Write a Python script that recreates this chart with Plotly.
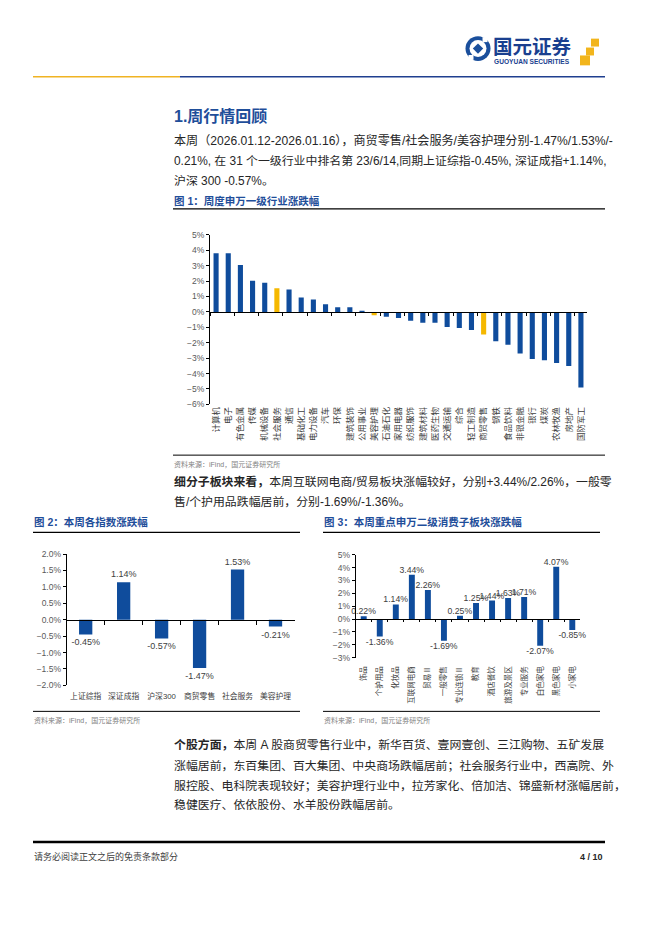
import plotly.graph_objects as go

W, H = 662, 936


def X(p):
    return p / W


def Y(p):
    return 1 - p / H


FONT = "Liberation Sans, Arial, Noto Sans CJK SC, sans-serif"
BLUE = "#0F4C9C"
GOLD = "#F5B800"
TBLUE = "#1F4E9A"
TXT = "#262626"

# ---------------- data ----------------
ind_names = ["计算机", "电子", "有色金属", "传媒", "机械设备", "社会服务", "通信", "基础化工",
             "电力设备", "汽车", "环保", "建筑装饰", "公用事业", "美容护理", "石油石化", "家用电器",
             "纺织服饰", "建筑材料", "医药生物", "交通运输", "综合", "轻工制造", "商贸零售", "钢铁",
             "食品饮料", "非银金融", "银行", "煤炭", "农林牧渔", "房地产", "国防军工"]
ind_chg = [3.81, 3.80, 3.04, 2.02, 1.89, 1.53, 1.45, 0.94, 0.81, 0.49, 0.30, 0.30, 0.06, -0.21,
           -0.32, -0.40, -0.57, -0.70, -0.70, -0.98, -1.04, -1.17, -1.47, -1.91, -2.13, -2.70,
           -3.06, -3.13, -3.32, -3.51, -4.91]
highlight = ["社会服务", "美容护理", "商贸零售"]

idx_names = ["上证综指", "深证成指", "沪深300", "商贸零售", "社会服务", "美容护理"]
idx_chg = [-0.45, 1.14, -0.57, -1.47, 1.53, -0.21]

sub_names = ["饰品", "个护用品", "化妆品", "互联网电商", "贸易Ⅱ", "一般零售", "专业连锁Ⅱ", "教育",
             "酒店餐饮", "旅游及景区", "专业服务", "白色家电", "黑色家电", "小家电"]
sub_chg = [0.22, -1.36, 1.14, 3.44, 2.26, -1.69, 0.25, 1.25, 1.44, 1.63, 1.71, -2.07, 4.07, -0.85]

# ---------------- geometry (px) ----------------
F1 = dict(x0=210, x1=587, top=232.3, bot=403.7, ymin=-6, ymax=5)
F2 = dict(x0=66.7, x1=294.5, top=555, bot=687.7, ymin=-2, ymax=2)
F3 = dict(x0=355.7, x1=580.3, top=555.7, bot=659.7, ymin=-3, ymax=5)


def zero_pos(f):
    b, t = Y(f["bot"]), Y(f["top"])
    return b + (0 - f["ymin"]) / (f["ymax"] - f["ymin"]) * (t - b)


fig = go.Figure()

# Figure 1
colors1 = [GOLD if n in highlight else BLUE for n in ind_names]
fig.add_trace(go.Bar(x=ind_names, y=ind_chg, marker_color=colors1, marker_line_width=0,
                     width=0.42, xaxis="x", yaxis="y", showlegend=False, hoverinfo="skip"))
fig.add_trace(go.Scatter(x=ind_names, y=ind_chg, mode="none", xaxis="x2", yaxis="y",
                         showlegend=False, hoverinfo="skip"))

# Figure 2
fig.add_trace(go.Bar(x=idx_names, y=idx_chg, marker_color=BLUE, marker_line_width=0, width=0.35,
                     text=idx_chg, texttemplate="%{y:.2f}%", textposition="outside",
                     constraintext="none", cliponaxis=False,
                     textfont=dict(size=9, color="#404040", family=FONT),
                     xaxis="x3", yaxis="y3", showlegend=False, hoverinfo="skip"))
fig.add_trace(go.Scatter(x=idx_names, y=idx_chg, mode="none", xaxis="x4", yaxis="y3",
                         showlegend=False, hoverinfo="skip"))

# Figure 3
fig.add_trace(go.Bar(x=sub_names, y=sub_chg, marker_color=BLUE, marker_line_width=0, width=0.37,
                     text=sub_chg, texttemplate="%{y:.2f}%", textposition="outside",
                     constraintext="none", cliponaxis=False,
                     textfont=dict(size=8.7, color="#404040", family=FONT),
                     xaxis="x5", yaxis="y5", showlegend=False, hoverinfo="skip"))
fig.add_trace(go.Scatter(x=sub_names, y=sub_chg, mode="none", xaxis="x6", yaxis="y5",
                         showlegend=False, hoverinfo="skip"))


def cat_axis(f, n, **kw):
    d = dict(domain=[X(f["x0"]), X(f["x1"])], type="category", range=[-0.5, n - 0.5],
             showgrid=False, zeroline=False, fixedrange=True)
    d.update(kw)
    return d


def val_axis(f, dtick, fmt, **kw):
    d = dict(domain=[Y(f["bot"]), Y(f["top"])], range=[f["ymin"], f["ymax"]], dtick=dtick,
             tickformat=fmt, ticksuffix="%", showline=True, linecolor="black", linewidth=1,
             ticks="outside", ticklen=3, tickcolor="black", showgrid=False, zeroline=False,
             tickfont=dict(size=8.5, color="#595959", family=FONT), fixedrange=True)
    d.update(kw)
    return d


zero_kw = dict(showline=True, linecolor="black", linewidth=1, ticks="outside", tickson="boundaries",
               ticklen=3, tickcolor="black", showticklabels=False, anchor="free")

layout_axes = dict(
    xaxis=cat_axis(F1, len(ind_names), anchor="y", showline=False, ticks="", tickangle=-90,
                   tickfont=dict(size=8.5, color="#404040", family=FONT)),
    xaxis2=cat_axis(F1, len(ind_names), overlaying="x", position=zero_pos(F1), **zero_kw),
    yaxis=val_axis(F1, 1, ".0f", anchor="x"),
    xaxis3=cat_axis(F2, len(idx_names), anchor="y3", showline=False, ticks="", tickangle=0,
                    ticklabelstandoff=5,
                    tickfont=dict(size=7.8, color="#404040", family=FONT)),
    xaxis4=cat_axis(F2, len(idx_names), overlaying="x3", position=zero_pos(F2),
                    **dict(zero_kw, ticklen=4)),
    yaxis3=val_axis(F2, 0.5, ".1f", anchor="x3"),
    xaxis5=cat_axis(F3, len(sub_names), anchor="y5", showline=False, ticks="", tickangle=-90,
                    ticklabelstandoff=6,
                    tickfont=dict(size=7.5, color="#404040", family=FONT)),
    xaxis6=cat_axis(F3, len(sub_names), overlaying="x5", position=zero_pos(F3),
                    **dict(zero_kw, ticklen=2)),
    yaxis5=val_axis(F3, 1, ".0f", anchor="x5"),
)

# ---------------- page shapes ----------------
shapes = []


def hline(x0, x1, y, color="black", w=1.0):
    shapes.append(dict(type="line", xref="paper", yref="paper", x0=X(x0), x1=X(x1), y0=Y(y), y1=Y(y),
                       line=dict(color=color, width=w)))


hline(33, 180, 72.5, "#F0B323", 1.6)
hline(180, 605, 72.5, "#1F3F8F", 1.6)
hline(173, 605, 206, "black", 1.3)
hline(173, 605, 455, "black", 1.0)
hline(33, 300, 533, "black", 1.3)
hline(323, 600, 533, "black", 1.3)
hline(33, 300, 714, "black", 1.0)
hline(323, 600, 714, "black", 1.0)
hline(33, 605, 846, "black", 2.5)

# logo circle
cx, cy, r = 478, 44, 12.5
shapes.append(dict(type="circle", xref="paper", yref="paper", x0=X(cx - r), x1=X(cx + r),
                   y0=Y(cy + r), y1=Y(cy - r), fillcolor="#1A4F9C", line=dict(width=0)))
r2 = 8.5
shapes.append(dict(type="circle", xref="paper", yref="paper", x0=X(cx - r2), x1=X(cx + r2),
                   y0=Y(cy + r2), y1=Y(cy - r2), fillcolor="white", line=dict(width=0)))
d = 5.2
shapes.append(dict(type="path", xref="paper", yref="paper",
                   path=f"M {X(cx)} {Y(cy - d)} L {X(cx + d)} {Y(cy)} L {X(cx)} {Y(cy + d)} L {X(cx - d)} {Y(cy)} Z",
                   fillcolor="#1A4F9C", line=dict(width=0)))
for (gx, gy) in [(cx + 7, cy - 9), (cx - 7, cy + 9)]:
    shapes.append(dict(type="rect", xref="paper", yref="paper", x0=X(gx - 2.5), x1=X(gx + 2.5),
                       y0=Y(gy + 2.5), y1=Y(gy - 2.5), fillcolor="white", line=dict(width=0)))
for (sx, sy, s) in [(591, 34, 8), (586, 43, 8), (580, 51, 10)]:
    shapes.append(dict(type="rect", xref="paper", yref="paper", x0=X(sx), x1=X(sx + s),
                       y0=Y(sy + s), y1=Y(sy), fillcolor="#F2B51C", line=dict(width=0)))

# ---------------- page text ----------------
ann = []


def text(x, y, s, size=12, color=TXT, anchor="left", bold=False):
    if bold:
        s = "<b>" + s + "</b>"
    ann.append(dict(xref="paper", yref="paper", x=X(x), y=Y(y), text=s, showarrow=False,
                    xanchor=anchor, yanchor="middle", align=anchor,
                    font=dict(size=size, color=color, family=FONT)))


BODY = 11.9
text(491, 42, "国元证券", 19.5, "#1A3F8F", bold=True)
text(492, 57, "GUOYUAN SECURITIES", 6.6, "#1A3F8F", bold=True)

text(172, 112, "1.周行情回顾", 16, TBLUE, bold=True)
text(172, 137, "本周（2026.01.12-2026.01.16），商贸零售/社会服务/美容护理分别-1.47%/1.53%/-", 12.1)
text(172, 158, "0.21%, 在 31 个一级行业中排名第 23/6/14,同期上证综指-0.45%, 深证成指+1.14%,", BODY)
text(172, 178, "沪深 300 -0.57%。", BODY)
text(172, 198, "图 1：周度申万一级行业涨跌幅", 10.5, TBLUE, bold=True)
text(172, 464, "资料来源：iFind，国元证券研究所", 7, "#7F7F7F")
text(172, 482, "<b>细分子板块来看，</b>本周互联网电商/贸易板块涨幅较好，分别+3.44%/2.26%，一般零", BODY)
text(172, 502, "售/个护用品跌幅居前，分别-1.69%/-1.36%。", BODY)

text(32, 523, "图 2：本周各指数涨跌幅", 10.5, TBLUE, bold=True)
text(322, 523, "图 3：本周重点申万二级消费子板块涨跌幅", 10.5, TBLUE, bold=True)
text(32, 723, "资料来源：iFind，国元证券研究所", 7, "#7F7F7F")
text(322, 723, "资料来源：iFind，国元证券研究所", 7, "#7F7F7F")

text(172, 748, "<b>个股方面，</b>本周 A 股商贸零售行业中，新华百货、壹网壹创、三江购物、五矿发展", BODY)
text(172, 769, "涨幅居前，东百集团、百大集团、中央商场跌幅居前；社会服务行业中，西高院、外", BODY)
text(172, 789, "服控股、电科院表现较好；美容护理行业中，拉芳家化、倍加洁、锦盛新材涨幅居前，", BODY)
text(172, 809, "稳健医疗、依依股份、水羊股份跌幅居前。", BODY)

text(32, 861, "请务必阅读正文之后的免责条款部分", 9, "#404040")
text(605, 861, "4 / 10", 9, "#262626", anchor="right", bold=True)

fig.update_layout(
    width=W, height=H, margin=dict(l=0, r=0, t=0, b=0),
    paper_bgcolor="white", plot_bgcolor="rgba(0,0,0,0)",
    font=dict(family=FONT, size=10, color=TXT),
    showlegend=False, bargap=0.5,
    shapes=shapes, annotations=ann,
    **layout_axes,
)

fig.write_html("out.html", config=dict(displayModeBar=False),
               post_script="document.body.style.margin='0';document.body.style.padding='0';"
                           "document.documentElement.style.overflow='hidden';")
